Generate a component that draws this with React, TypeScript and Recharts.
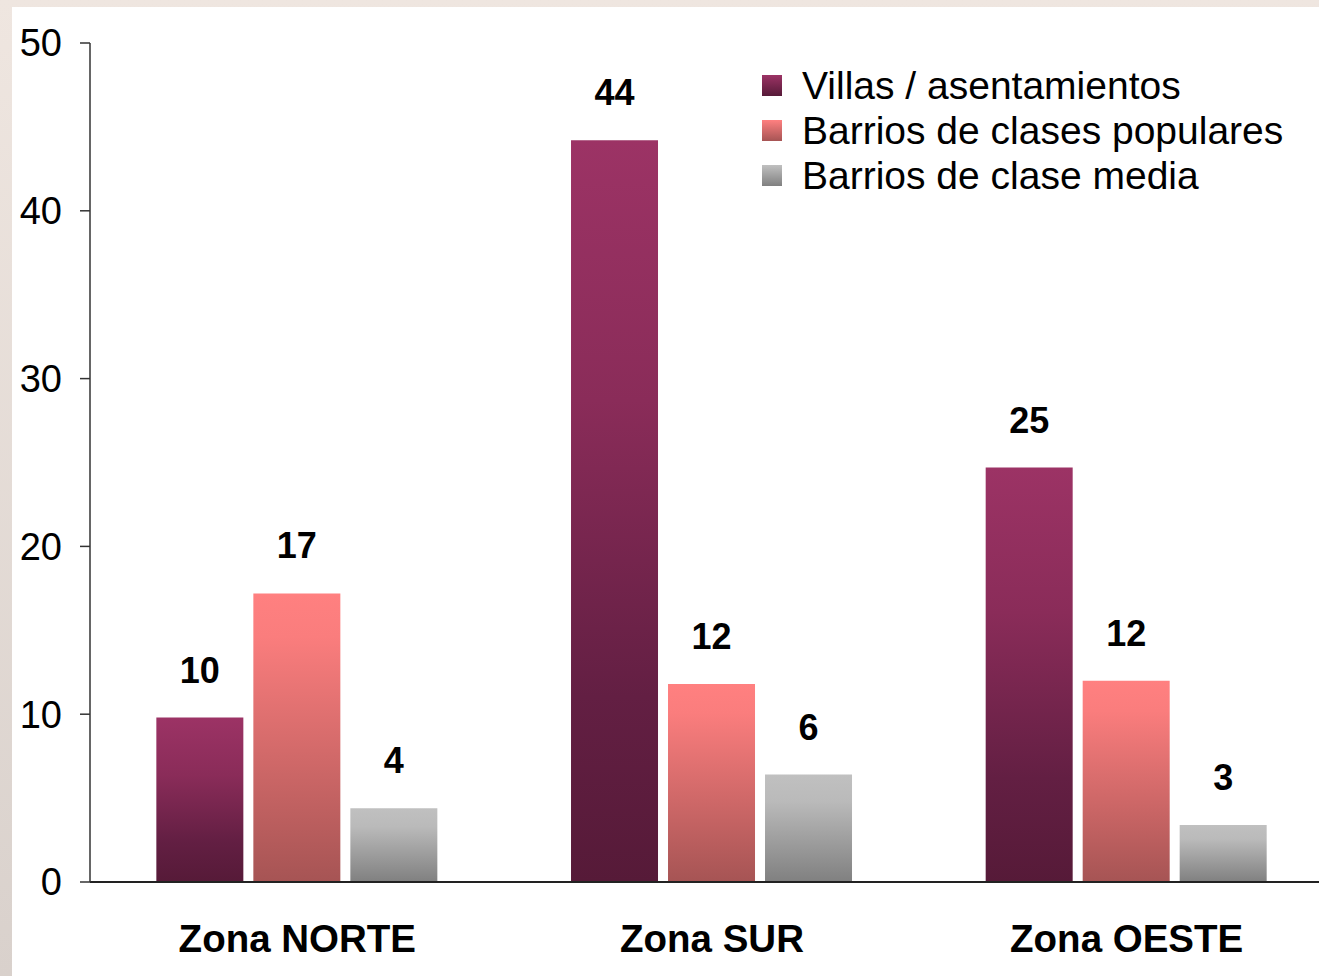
import React from 'react';
import { BarChart, Bar, XAxis, YAxis, Legend, LabelList } from 'recharts';

const zonas = ['Zona NORTE', 'Zona SUR', 'Zona OESTE'];
const villas = [9.8, 44.2, 24.7];
const populares = [17.2, 11.8, 12.0];
const media = [4.4, 6.4, 3.4];
const yTicks = [0, 10, 20, 30, 40, 50];
const edgeTicks = [0, 1, 2, 3];

const series = [
  { key: 'villas', name: 'Villas / asentamientos', grad: 'gVillas', top: '#9c3365', bottom: '#561a38' },
  { key: 'populares', name: 'Barrios de clases populares', grad: 'gPop', top: '#ff8080', bottom: '#a65454' },
  { key: 'media', name: 'Barrios de clase media', grad: 'gMedia', top: '#c0c0c0', bottom: '#808080' },
];

const data = zonas.map((zona, i) => ({
  zona,
  villas: villas[i],
  populares: populares[i],
  media: media[i],
}));

const font = '"Liberation Sans", Arial, Helvetica, sans-serif';

const LegendBox = () => (
  <div style={{ fontFamily: font, fontSize: 39, color: '#000', textAlign: 'left' }}>
    {series.map((s) => (
      <div key={s.key} style={{ display: 'flex', alignItems: 'center', height: 45 }}>
        <div
          style={{
            width: 20,
            height: 21,
            marginRight: 20,
            background: `linear-gradient(${s.top}, ${s.bottom})`,
          }}
        />
        <span style={{ whiteSpace: 'nowrap' }}>{s.name}</span>
      </div>
    ))}
  </div>
);

export default function App() {
  return (
    <div
      style={{
        position: 'absolute',
        left: 0,
        top: 0,
        width: 1319,
        height: 976,
        overflow: 'hidden',
        background: 'linear-gradient(#efe6e0, #d9d1cc)',
      }}
    >
      <div style={{ position: 'absolute', left: 12, top: 7, right: 0, bottom: 0, background: '#fff' }} />
      <div style={{ position: 'absolute', left: 0, top: 0 }}>
        <BarChart
          width={1336}
          height={976}
          data={data}
          margin={{ top: 43, right: 2, left: 0, bottom: 0 }}
          barCategoryGap="16%"
          barGap={10}
          style={{ fontFamily: font }}
        >
          <defs>
            <linearGradient id="gVillas" x1="0" y1="0" x2="0" y2="1">
              <stop offset="0%" stopColor="#9c3365" />
              <stop offset="35%" stopColor="#8a2c59" />
              <stop offset="75%" stopColor="#631f43" />
              <stop offset="100%" stopColor="#561a38" />
            </linearGradient>
            <linearGradient id="gPop" x1="0" y1="0" x2="0" y2="1">
              <stop offset="0%" stopColor="#ff8080" />
              <stop offset="15%" stopColor="#fa7d7d" />
              <stop offset="100%" stopColor="#a65454" />
            </linearGradient>
            <linearGradient id="gMedia" x1="0" y1="0" x2="0" y2="1">
              <stop offset="0%" stopColor="#c0c0c0" />
              <stop offset="25%" stopColor="#bababa" />
              <stop offset="100%" stopColor="#808080" />
            </linearGradient>
          </defs>
          <XAxis
            xAxisId="edge"
            type="number"
            domain={[0, 3]}
            ticks={edgeTicks}
            tick={false}
            tickSize={11}
            tickLine={{ stroke: '#777', strokeWidth: 2.5 }}
            axisLine={false}
            height={0}
          />
          <XAxis
            xAxisId="cat"
            dataKey="zona"
            height={94}
            tickLine={false}
            tickSize={0}
            tickMargin={43}
            axisLine={{ stroke: '#222', strokeWidth: 2 }}
            tick={{ fontSize: 38.5, fontWeight: 'bold', fill: '#000' }}
          />
          <YAxis
            width={90}
            domain={[0, 50]}
            ticks={yTicks}
            interval={0}
            tickSize={10}
            tickMargin={18}
            axisLine={{ stroke: '#333', strokeWidth: 1.5 }}
            tickLine={{ stroke: '#333', strokeWidth: 1.5 }}
            tick={{ fontSize: 38, fill: '#000' }}
          />
          <Legend
            layout="horizontal"
            verticalAlign="middle"
            align="center"
            content={<LegendBox />}
            wrapperStyle={{ position: 'absolute', left: 762, top: 63, width: 560 }}
          />
          {series.map((s) => (
            <Bar
              key={s.key}
              xAxisId="cat"
              dataKey={s.key}
              name={s.name}
              fill={`url(#${s.grad})`}
              isAnimationActive={false}
            >
              <LabelList
                dataKey={s.key}
                position="top"
                offset={35}
                formatter={(v: any) => Math.round(Number(v))}
                style={{ fontSize: 36, fontWeight: 'bold', fill: '#000' }}
              />
            </Bar>
          ))}
        </BarChart>
      </div>
    </div>
  );
}
